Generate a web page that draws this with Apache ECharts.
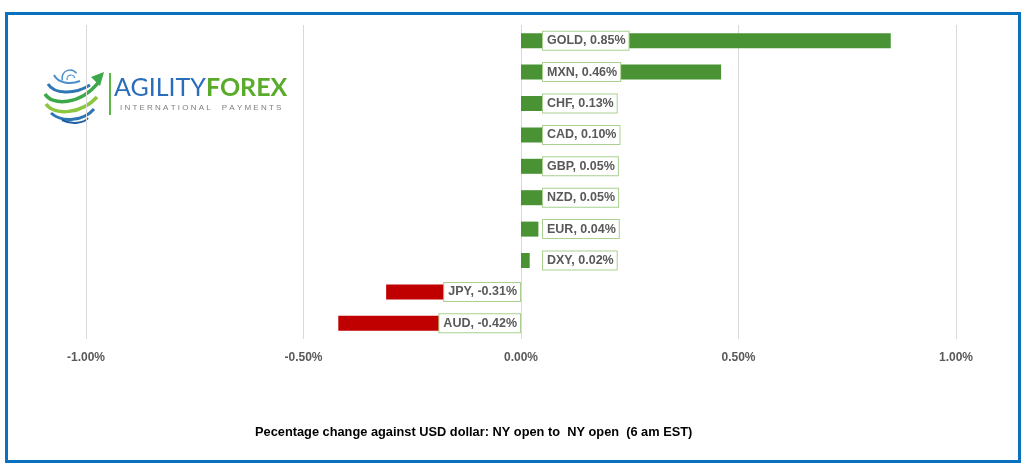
<!DOCTYPE html>
<html><head><meta charset="utf-8">
<script src="https://cdn.jsdelivr.net/npm/echarts@6/dist/echarts.min.js"></script>
<style>html,body{margin:0;padding:0;background:#fff}#c{width:1024px;height:467px}</style>
</head><body><div id="c"></div>
<script>
const categories = ['GOLD','MXN','CHF','CAD','GBP','NZD','EUR','DXY','JPY','AUD'];
const values = [0.85,0.46,0.13,0.10,0.05,0.05,0.04,0.02,-0.31,-0.42];
const axisTicks = [-1,-0.5,0,0.5,1];
const titleText = 'Pecentage change against USD dollar: NY open to  NY open  (6 am EST)';

const GREEN = '#4A9335', RED = '#C00000', TXT = '#595959';
const chart = echarts.init(document.getElementById('c'));

const barData = values.map(v => ({value: v, itemStyle: {color: v >= 0 ? GREEN : RED}}));
const labelData = values.map((v, i) => ({
  value: [0, categories[i]],
  label: {
    position: v >= 0 ? 'right' : 'left',
    distance: v >= 0 ? 22 : 1
  }
}));

const fmt = v => v.toFixed(2) + '%';

chart.setOption({
  animation: false,
  backgroundColor: '#fff',
  grid: {left: 86, right: 68, top: 25, bottom: 128},
  xAxis: {
    type: 'value', min: -1, max: 1, interval: 0.5,
    axisLine: {show: false}, axisTick: {show: false},
    splitLine: {lineStyle: {color: '#D9D9D9', width: 1}},
    axisLabel: {formatter: v => fmt(v), color: TXT, fontSize: 12, fontWeight: 'bold',
      fontFamily: 'Liberation Sans Narrow, Liberation Sans, sans-serif', margin: 13}
  },
  yAxis: {
    type: 'category', data: categories, inverse: true,
    axisLine: {show: false}, axisTick: {show: false}, axisLabel: {show: false}, splitLine: {show: false}
  },
  series: [
    {type: 'bar', data: barData, barWidth: 15, z: 2},
    {type: 'scatter', data: labelData, symbolSize: 0, z: 5,
      itemStyle: {opacity: 1},
      emphasis: {disabled: true},
      label: {show: true,
        formatter: p => categories[p.dataIndex] + ', ' + fmt(values[p.dataIndex]),
        color: TXT, fontSize: 12.5, fontWeight: 'bold',
        fontFamily: 'Liberation Sans, sans-serif',
        backgroundColor: '#fff', borderColor: '#A9D08E', borderWidth: 1,
        padding: [3, 3, 2, 4]}
    }
  ],
  graphic: [
    {type: 'rect', shape: {x: 6.5, y: 13.5, width: 1013, height: 448},
      style: {fill: 'none', stroke: '#0A70C0', lineWidth: 3}, z: 100},
    {type: 'text', x: 255, y: 426, z: 100,
      style: {text: titleText, fill: '#000', font: 'bold 12.8px Liberation Sans, sans-serif'}},
    {type: 'group', x: 40, y: 57, z: 50, children: [
      {type: 'rect', shape: {x: 0, y: 0, width: 255, height: 68}, style: {fill: '#fff'}},
      // globe swirl
      {type: 'arc', shape: {cx: 30, cy: 21, r: 8, startAngle: Math.PI * 0.9, endAngle: Math.PI * 1.8}, style: {stroke: '#4A8FCC', lineWidth: 1.5, fill: 'none'}},
      {type: 'arc', shape: {cx: 31, cy: 22, r: 4, startAngle: Math.PI * 0.9, endAngle: Math.PI * 1.9}, style: {stroke: '#4A8FCC', lineWidth: 1.2, fill: 'none'}},
      {type: 'bezierCurve', shape: {x1: 8, y1: 27, cpx1: 14, cpy1: 37, cpx2: 34, cpy2: 38, x2: 50, y2: 28}, style: {stroke: '#2E75B6', lineWidth: 3, fill: 'none'}},
      {type: 'bezierCurve', shape: {x1: 5, y1: 37, cpx1: 12, cpy1: 49, cpx2: 40, cpy2: 48, x2: 58, y2: 26}, style: {stroke: '#3DA84A', lineWidth: 3.5, fill: 'none'}},
      {type: 'bezierCurve', shape: {x1: 6, y1: 47, cpx1: 14, cpy1: 59, cpx2: 42, cpy2: 57, x2: 57, y2: 40}, style: {stroke: '#8CC63F', lineWidth: 3.5, fill: 'none'}},
      {type: 'bezierCurve', shape: {x1: 11, y1: 56, cpx1: 22, cpy1: 66, cpx2: 44, cpy2: 64, x2: 54, y2: 52}, style: {stroke: '#2E75B6', lineWidth: 3, fill: 'none'}},
      {type: 'bezierCurve', shape: {x1: 22, y1: 63, cpx1: 32, cpy1: 68, cpx2: 44, cpy2: 66, x2: 48, y2: 61}, style: {stroke: '#1F5FA8', lineWidth: 2, fill: 'none'}},
      {type: 'bezierCurve', shape: {x1: 14, y1: 18, cpx1: 18, cpy1: 26, cpx2: 30, cpy2: 28, x2: 40, y2: 24}, style: {stroke: '#4A8FCC', lineWidth: 2, fill: 'none'}},
      {type: 'polygon', shape: {points: [[51, 20], [64, 15], [60, 29]]}, style: {fill: '#3DA84A'}},
      // divider
      {type: 'rect', shape: {x: 69, y: 16, width: 2, height: 42}, style: {fill: '#5FB846'}},
      {type: 'text', x: 74, y: 18, style: {text: '{a|AGILITY}{b|FOREX}', rich: {
        a: {fill: '#2A6EBB', font: '25px Lato, Open Sans, sans-serif'},
        b: {fill: '#5AAB2A', font: 'bold 25px Lato, Open Sans, sans-serif'}}}},
      {type: 'text', x: 80, y: 47, style: {text: 'I N T E R N A T I O N A L     P A Y M E N T S', fill: '#7F7F7F', font: '8px Liberation Sans, sans-serif'}}
    ]}
  ]
});
</script></body></html>
